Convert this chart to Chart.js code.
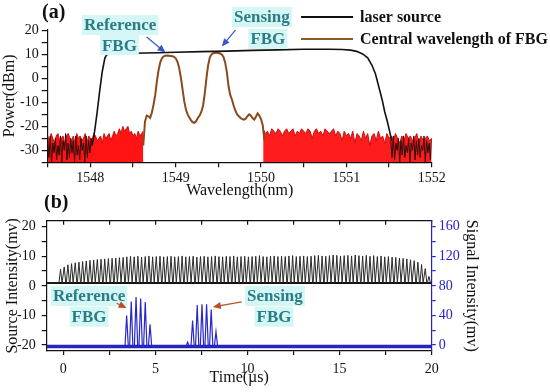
<!DOCTYPE html>
<html>
<head>
    <title>FBG spectrum and pulse signal</title>
    <script src="https://cdn.jsdelivr.net/npm/chart.js"></script>
    <style>
        body { margin: 0; background: #fff; }
        #wrap { position: relative; width: 550px; height: 392px; }
        canvas { position: absolute; left: 0; }
    </style>
</head>
<body>
<div id="wrap">
    <canvas id="chartA" width="550" height="200" style="top:0"></canvas>
    <canvas id="chartB" width="550" height="197" style="top:195px"></canvas>
</div>

<script>
// ---------- panel (a): spectrum ----------
const wlTicks = [1547.5, 1548, 1548.5, 1549, 1549.5, 1550, 1550.5, 1551, 1551.5, 1552];
const powTicks = [-35, -30, -25, -20, -15, -10, -5, 0, 5, 10, 15, 20];

// laser source, main band
const laserWl = [1548.02, 1548.05, 1548.08, 1548.11, 1548.14, 1548.17, 1548.19, 1548.21, 1548.25, 1548.35,
    1548.5, 1548.8, 1549.0, 1549.3, 1549.6, 1549.9, 1550.2, 1550.5, 1550.8, 1550.95,
    1551.05, 1551.12, 1551.19, 1551.25, 1551.3, 1551.34, 1551.38, 1551.42, 1551.45, 1551.48, 1551.51, 1551.53];
const laserPow = [-28, -22, -14, -5, 3, 8.5, 9.8, 10.1, 10.3, 10.4,
    10.5, 10.7, 10.9, 11.2, 11.4, 11.7, 11.9, 12.2, 12.2, 12.1,
    11.8, 11.3, 10.2, 8.6, 5.5, 2.0, -3.5, -9, -14, -18, -22.5, -26];

// laser source noise floor, both sides
const laserNoiseLWl = [1547.50, 1547.515, 1547.53, 1547.545, 1547.56, 1547.575, 1547.59, 1547.605, 1547.62, 1547.635,
    1547.65, 1547.665, 1547.68, 1547.695, 1547.71, 1547.725, 1547.74, 1547.755, 1547.77, 1547.785,
    1547.80, 1547.815, 1547.83, 1547.845, 1547.86, 1547.875, 1547.89, 1547.905, 1547.92, 1547.935,
    1547.95, 1547.965, 1547.98, 1547.995, 1548.01, 1548.02];
const laserNoiseLPow = [-26, -33, -24, -35, -27, -31, -25, -34, -28, -32,
    -24, -35, -26, -30, -23, -34, -27, -33, -25, -31,
    -26, -35, -24, -32, -28, -34, -25, -30, -27, -35,
    -24, -33, -26, -31, -25, -28];
const laserNoiseRWl = [1551.52, 1551.535, 1551.55, 1551.565, 1551.58, 1551.595, 1551.61, 1551.625, 1551.64, 1551.655,
    1551.67, 1551.685, 1551.70, 1551.715, 1551.73, 1551.745, 1551.76, 1551.775, 1551.79, 1551.805,
    1551.82, 1551.835, 1551.85, 1551.865, 1551.88, 1551.895, 1551.91, 1551.925, 1551.94, 1551.955,
    1551.97, 1551.985, 1552.0];
const laserNoiseRPow = [-26, -33, -24, -34, -27, -30, -25, -35, -26, -32,
    -24, -33, -28, -31, -25, -35, -27, -30, -24, -34,
    -26, -32, -25, -33, -28, -30, -24, -35, -26, -31,
    -27, -34, -25];

// FBG reflection (brown trace)
const fbgWl = [1548.62, 1548.64, 1548.66, 1548.68, 1548.70, 1548.72, 1548.74, 1548.76, 1548.78, 1548.80,
    1548.82, 1548.84, 1548.86, 1548.88, 1548.90, 1548.92, 1548.94, 1548.96, 1548.98, 1549.00,
    1549.02, 1549.04, 1549.06, 1549.08, 1549.10, 1549.12, 1549.14, 1549.16, 1549.18, 1549.20,
    1549.22, 1549.24, 1549.26, 1549.28, 1549.30, 1549.32, 1549.34, 1549.36, 1549.38, 1549.40,
    1549.42, 1549.44, 1549.46, 1549.48, 1549.50, 1549.52, 1549.54, 1549.56, 1549.58, 1549.60,
    1549.62, 1549.64, 1549.66, 1549.68, 1549.70, 1549.72, 1549.74, 1549.76, 1549.78, 1549.80,
    1549.82, 1549.84, 1549.86, 1549.88, 1549.90, 1549.92, 1549.94, 1549.96, 1549.98, 1550.00,
    1550.02, 1550.04];
const fbgPow = [-28, -18, -15.5, -15.8, -16.5, -14.4, -11, -7, -1, 3.6,
    6.8, 8.5, 9.2, 9.5, 9.6, 9.5, 9.4, 9.3, 9.0, 8.4,
    7.0, 4.5, 0.5, -4.5, -9.5, -13.0, -15.0, -16.3, -17.5, -18.3,
    -18.5, -17.8, -16.5, -15.5, -14.0, -11.5, -6.5, 0, 5.5, 8.8,
    10.0, 10.5, 10.7, 10.7, 10.6, 10.4, 10.0, 9.0, 6.5, 2.5,
    -3.5, -7.0, -8.9, -11.5, -13.5, -15.0, -15.8, -16.5, -17.0, -17.2,
    -16.8, -15.8, -15.0, -15.5, -16.5, -17.2, -16.0, -14.6, -15.5, -17.0,
    -19.5, -26];

// FBG measurement noise floor (red filled), upper envelope
const fbgNoiseLWl = [1547.50, 1547.52, 1547.54, 1547.56, 1547.58, 1547.60, 1547.62, 1547.64, 1547.66, 1547.68,
    1547.70, 1547.72, 1547.74, 1547.76, 1547.78, 1547.80, 1547.82, 1547.84, 1547.86, 1547.88,
    1547.90, 1547.92, 1547.94, 1547.96, 1547.98, 1548.00, 1548.02, 1548.04, 1548.06, 1548.08,
    1548.10, 1548.12, 1548.14, 1548.16, 1548.18, 1548.20, 1548.22, 1548.24, 1548.26, 1548.28,
    1548.30, 1548.32, 1548.34, 1548.36, 1548.38, 1548.40, 1548.42, 1548.44, 1548.46, 1548.48,
    1548.50, 1548.52, 1548.54, 1548.56, 1548.58, 1548.60, 1548.62];
const fbgNoiseLPow = [-24, -26, -23, -25, -27, -24, -23, -26, -25, -24,
    -28, -24, -23, -25, -26, -24, -27, -23, -25, -24,
    -26, -25, -23, -27, -24, -25, -26, -23, -24, -26,
    -25, -24, -27, -23, -25, -24, -23, -26, -24, -22,
    -24, -23, -21, -23, -20, -22, -21, -20, -23, -22,
    -24, -23, -25, -22, -24, -23, -22];
const fbgNoiseRWl = [1550.025, 1550.05, 1550.075, 1550.10, 1550.125, 1550.15, 1550.175, 1550.20, 1550.225, 1550.25,
    1550.275, 1550.30, 1550.325, 1550.35, 1550.375, 1550.40, 1550.425, 1550.45, 1550.475, 1550.50,
    1550.525, 1550.55, 1550.575, 1550.60, 1550.625, 1550.65, 1550.675, 1550.70, 1550.725, 1550.75,
    1550.775, 1550.80, 1550.825, 1550.85, 1550.875, 1550.90, 1550.925, 1550.95, 1550.975, 1551.00,
    1551.025, 1551.05, 1551.075, 1551.10, 1551.125, 1551.15, 1551.175, 1551.20, 1551.225, 1551.25,
    1551.275, 1551.30, 1551.325, 1551.35, 1551.375, 1551.40, 1551.425, 1551.45, 1551.475, 1551.50,
    1551.525, 1551.55, 1551.575, 1551.60, 1551.625, 1551.65, 1551.675, 1551.70, 1551.725, 1551.75,
    1551.775, 1551.80, 1551.825, 1551.85, 1551.875, 1551.90, 1551.925, 1551.95, 1551.975, 1552.00];
const fbgNoiseRPow = [-21, -23, -22, -24, -21, -22, -23, -21, -22, -24,
    -22, -21, -23, -22, -21, -24, -22, -23, -21, -22,
    -23, -21, -22, -25, -22, -21, -23, -22, -24, -21,
    -22, -23, -22, -21, -24, -22, -23, -26, -22, -24,
    -23, -25, -22, -27, -23, -24, -26, -22, -25, -23,
    -28, -24, -23, -26, -22, -25, -24, -27, -23, -25,
    -24, -26, -23, -25, -27, -24, -26, -23, -25, -24,
    -26, -25, -23, -27, -24, -26, -25, -24, -26, -25];

// ---------- panel (b): pulse train ----------
const timeTicks = [0, 2.5, 5, 7.5, 10, 12.5, 15, 17.5, 20];
const srcTicks = [-20, -15, -10, -5, 0, 5, 10, 15, 20];
const sigTicks = [0, 20, 40, 60, 80, 100, 120, 140, 160];

const srcBase = 1.0;
const srcPulseTimes = [
    -0.15, 0.05, 0.25, 0.45, 0.65, 0.85, 1.05, 1.25, 1.45, 1.65,
    1.85, 2.05, 2.25, 2.45, 2.65, 2.85, 3.05, 3.25, 3.45, 3.65,
    3.85, 4.05, 4.25, 4.45, 4.65, 4.85, 5.05, 5.25, 5.45, 5.65,
    5.85, 6.05, 6.25, 6.45, 6.65, 6.85, 7.05, 7.25, 7.45, 7.65,
    7.85, 8.05, 8.25, 8.45, 8.65, 8.85, 9.05, 9.25, 9.45, 9.65,
    9.85, 10.05, 10.25, 10.45, 10.65, 10.85, 11.05, 11.25, 11.45, 11.65,
    11.85, 12.05, 12.25, 12.45, 12.65, 12.85, 13.05, 13.25, 13.45, 13.65,
    13.85, 14.05, 14.25, 14.45, 14.65, 14.85, 15.05, 15.25, 15.45, 15.65,
    15.85, 16.05, 16.25, 16.45, 16.65, 16.85, 17.05, 17.25, 17.45, 17.65,
    17.85, 18.05, 18.25, 18.45, 18.65, 18.85, 19.05, 19.25, 19.45, 19.65,
    19.85];
const srcPulsePeaks = [
    5.6, 6.4, 7.1, 7.5, 7.8, 8.0, 8.2, 8.4, 8.6, 8.7,
    8.9, 9.0, 9.1, 9.2, 9.3, 9.4, 9.5, 9.6, 9.8, 10.0,
    9.8, 10.0, 9.7, 9.9, 10.1, 9.8, 9.9, 10.0, 9.8, 9.9,
    10.0, 9.8, 9.9, 10.1, 9.8, 9.9, 10.0, 9.7, 9.9, 10.0,
    9.8, 9.9, 10.1, 9.9, 9.8, 10.0, 9.9, 10.1, 9.8, 9.9,
    10.0, 9.8, 9.9, 10.0, 10.2, 9.9, 9.8, 10.0, 10.1, 9.9,
    10.0, 9.9, 10.1, 10.2, 9.9, 10.0, 10.1, 9.9, 10.0, 10.2,
    10.3, 10.1, 10.0, 10.2, 10.4, 10.3, 10.1, 10.2, 10.3, 10.1,
    10.4, 10.2, 10.1, 10.3, 10.0, 10.2, 9.9, 10.1, 9.8, 9.9,
    9.7, 9.6, 9.4, 9.3, 9.1, 8.8, 8.5, 8.0, 7.2, 5.8,
    3.2];

const sigBase = -2;
const refPulseTimes = [3.44, 3.69, 3.95, 4.20, 4.45, 4.71];
const refPulsePeaks = [40, 59, 65, 63, 58, 28];
const senPulseTimes = [6.75, 7.02, 7.27, 7.53, 7.78, 8.03, 8.29];
const senPulsePeaks = [4, 33, 54, 55, 55, 48, 18];

// ---------- helpers ----------
Chart.defaults.font.family = "'Liberation Serif', 'Times New Roman', serif";
Chart.defaults.color = '#111';

const toXY = (xs, ys) => xs.map((x, i) => ({ x: x, y: ys[i] }));

function pulseTrain(times, peaks, base, half, xMin, xMax) {
    const pts = [{ x: xMin, y: base }];
    times.forEach((t, i) => {
        pts.push({ x: t - half, y: base }, { x: t, y: peaks[i] }, { x: t + half, y: base });
    });
    pts.push({ x: xMax, y: base });
    return pts;
}

const fixTicks = list => axis => { axis.ticks = list.map(v => ({ value: v })); };

// text boxes, arrows, legend, panel letter
const decorPlugin = {
    id: 'decor',
    afterDraw(chart, args, opts) {
        const ctx = chart.ctx;
        const xs = chart.scales.x;
        const ys = chart.scales[opts.yScale || 'y'];
        ctx.save();
        (opts.texts || []).forEach(t => {
            ctx.font = 'bold 17px "Liberation Serif", serif';
            const px = xs.getPixelForValue(t.x), py = ys.getPixelForValue(t.y);
            const w = ctx.measureText(t.text).width;
            ctx.fillStyle = '#d4f6f4';
            ctx.fillRect(px - w / 2 - 2, py - 10, w + 4, 20);
            ctx.fillStyle = '#2c7c86';
            ctx.textAlign = 'center';
            ctx.textBaseline = 'middle';
            ctx.fillText(t.text, px, py + 1);
        });
        (opts.arrows || []).forEach(a => {
            const x1 = xs.getPixelForValue(a.from[0]), y1 = ys.getPixelForValue(a.from[1]);
            const x2 = xs.getPixelForValue(a.to[0]), y2 = ys.getPixelForValue(a.to[1]);
            const ang = Math.atan2(y2 - y1, x2 - x1);
            ctx.strokeStyle = a.color;
            ctx.fillStyle = a.color;
            ctx.lineWidth = 1.2;
            ctx.beginPath();
            ctx.moveTo(x1, y1);
            ctx.lineTo(x2 - 6 * Math.cos(ang), y2 - 6 * Math.sin(ang));
            ctx.stroke();
            ctx.beginPath();
            ctx.moveTo(x2, y2);
            ctx.lineTo(x2 - 8 * Math.cos(ang) + 3.5 * Math.sin(ang), y2 - 8 * Math.sin(ang) - 3.5 * Math.cos(ang));
            ctx.lineTo(x2 - 8 * Math.cos(ang) - 3.5 * Math.sin(ang), y2 - 8 * Math.sin(ang) + 3.5 * Math.cos(ang));
            ctx.closePath();
            ctx.fill();
        });
        (opts.legend || []).forEach((item, i) => {
            const y = opts.legendY + i * 22;
            ctx.strokeStyle = item.color;
            ctx.lineWidth = 2;
            ctx.beginPath();
            ctx.moveTo(opts.legendX, y);
            ctx.lineTo(opts.legendX + 52, y);
            ctx.stroke();
            ctx.fillStyle = '#111';
            ctx.font = 'bold 16px "Liberation Serif", serif';
            ctx.textAlign = 'left';
            ctx.textBaseline = 'middle';
            ctx.fillText(item.label, opts.legendX + 59, y + 1);
        });
        if (opts.panel) {
            ctx.fillStyle = '#111';
            ctx.font = 'bold 20px "Liberation Serif", serif';
            ctx.textAlign = 'left';
            ctx.textBaseline = 'middle';
            ctx.fillText(opts.panel, opts.panelX, opts.panelY);
        }
        ctx.restore();
    }
};

const axisCommon = {
    grid: { drawOnChartArea: false, color: '#111', tickLength: 5, lineWidth: 1.2 },
    border: { color: '#111', width: 1.2 },
    ticks: { autoSkip: false, maxRotation: 0, font: { size: 14 }, color: '#111' }
};

// ---------- chart (a) ----------
new Chart(document.getElementById('chartA'), {
    type: 'line',
    data: {
        datasets: [
            { label: 'laser source', data: toXY(laserWl, laserPow), borderColor: '#111', borderWidth: 1.6, order: 0 },
            { label: 'Central wavelength of FBG', data: toXY(fbgWl, fbgPow), borderColor: '#8a4a1e', borderWidth: 2, order: 1 },
            { label: 'laser noise L', data: toXY(laserNoiseLWl, laserNoiseLPow), borderColor: '#2e0c0c', borderWidth: 1, order: 2 },
            { label: 'laser noise R', data: toXY(laserNoiseRWl, laserNoiseRPow), borderColor: '#2e0c0c', borderWidth: 1, order: 2 },
            { label: 'fbg noise L', data: toXY(fbgNoiseLWl, fbgNoiseLPow), borderColor: '#c81010', backgroundColor: '#ff1414', fill: 'start', borderWidth: 1, order: 4 },
            { label: 'fbg noise R', data: toXY(fbgNoiseRWl, fbgNoiseRPow), borderColor: '#c81010', backgroundColor: '#ff1c1c', fill: 'start', borderWidth: 1, order: 4 }
        ]
    },
    options: {
        responsive: false,
        animation: false,
        elements: { point: { radius: 0 }, line: { tension: 0 } },
        layout: { padding: { top: 29.3, right: 118.3, left: 0, bottom: 0 } },
        plugins: {
            legend: { display: false },
            tooltip: { enabled: false },
            decor: {
                texts: [
                    { text: 'Reference', x: 1548.35, y: 22.3 },
                    { text: 'FBG', x: 1548.34, y: 13.9 },
                    { text: 'Sensing', x: 1550.01, y: 25.6 },
                    { text: 'FBG', x: 1550.08, y: 16.5 }
                ],
                arrows: [
                    { from: [1548.66, 17.3], to: [1548.88, 10.8], color: '#3558c8' },
                    { from: [1549.70, 20.2], to: [1549.54, 13.3], color: '#3558c8' }
                ],
                legend: [
                    { label: 'laser source', color: '#111' },
                    { label: 'Central wavelength of FBG', color: '#8a5a24' }
                ],
                legendX: 301, legendY: 17,
                panel: '(a)', panelX: 42, panelY: 13
            }
        },
        scales: {
            x: {
                type: 'linear', min: 1547.5, max: 1552,
                afterBuildTicks: fixTicks(wlTicks),
                afterFit: s => { s.height = 37.7; },
                grid: axisCommon.grid, border: axisCommon.border,
                ticks: Object.assign({}, axisCommon.ticks, { padding: 3, callback: v => Number.isInteger(v) ? String(v) : '' }),
                title: { display: true, text: 'Wavelength(nm)', font: { size: 16 }, padding: { top: 0, bottom: 0 } }
            },
            y: {
                min: -35, max: 20.5,
                afterBuildTicks: fixTicks(powTicks),
                afterFit: s => { s.width = 47.7; },
                grid: Object.assign({}, axisCommon.grid, { tickLength: 6 }), border: axisCommon.border,
                ticks: Object.assign({}, axisCommon.ticks, { padding: 3, callback: v => v % 10 === 0 ? String(v) : '' }),
                title: { display: true, text: 'Power(dBm)', font: { size: 16 }, padding: { top: 0, bottom: 0 } }
            }
        }
    },
    plugins: [decorPlugin]
});

// ---------- chart (b) ----------
new Chart(document.getElementById('chartB'), {
    type: 'line',
    data: {
        datasets: [
            { label: 'source', data: pulseTrain(srcPulseTimes, srcPulsePeaks, srcBase, 0.085, -0.9, 20), borderColor: '#2a2a2a', borderWidth: 1, yAxisID: 'y', order: 1 },
            { label: 'source base', data: toXY([-0.9, 20], [srcBase, srcBase]), borderColor: '#111', borderWidth: 2, yAxisID: 'y', order: 2 },
            { label: 'signal', data: pulseTrain(refPulseTimes.concat(senPulseTimes), refPulsePeaks.concat(senPulsePeaks), sigBase, 0.09, -0.9, 20), borderColor: '#2828c8', borderWidth: 1.2, yAxisID: 'y2', order: 0 },
            { label: 'signal base', data: toXY([-0.9, 20], [sigBase, sigBase]), borderColor: '#2323c0', borderWidth: 3.5, yAxisID: 'y2', order: 0 }
        ]
    },
    options: {
        responsive: false,
        animation: false,
        elements: { point: { radius: 0 }, line: { tension: 0 } },
        layout: { padding: { top: 25.7, right: 0, left: 0, bottom: 0 } },
        plugins: {
            legend: { display: false },
            tooltip: { enabled: false },
            decor: {
                texts: [
                    { text: 'Reference', x: 1.40, y: -3.4 },
                    { text: 'FBG', x: 1.40, y: -10.4 },
                    { text: 'Sensing', x: 11.49, y: -3.4 },
                    { text: 'FBG', x: 11.44, y: -10.4 }
                ],
                arrows: [
                    { from: [2.90, -5.9], to: [3.44, -7.5], color: '#b4502a' },
                    { from: [9.69, -5.4], to: [8.12, -7.1], color: '#b4502a' }
                ],
                panel: '(b)', panelX: 44, panelY: 8
            }
        },
        scales: {
            x: {
                type: 'linear', position: 'bottom', min: -0.9, max: 20,
                afterBuildTicks: fixTicks(timeTicks),
                afterFit: s => { s.height = 41; },
                grid: Object.assign({}, axisCommon.grid, { tickLength: 4 }), border: axisCommon.border,
                ticks: Object.assign({}, axisCommon.ticks, { padding: 6, callback: v => v % 5 === 0 ? String(v) : '' }),
                title: { display: true, text: 'Time(µs)', font: { size: 16 }, padding: { top: 0, bottom: 4.4 } }
            },
            xTop: {
                type: 'linear', position: 'top', min: -0.9, max: 20,
                afterBuildTicks: fixTicks(timeTicks),
                afterFit: s => { s.height = 0; },
                grid: Object.assign({}, axisCommon.grid, { tickLength: -4 }), border: axisCommon.border,
                ticks: { display: false }
            },
            y: {
                position: 'left', min: -22, max: 22,
                afterBuildTicks: fixTicks(srcTicks),
                afterFit: s => { s.width = 46.7; },
                grid: axisCommon.grid, border: axisCommon.border,
                ticks: Object.assign({}, axisCommon.ticks, { padding: 6, callback: v => v % 10 === 0 ? String(v) : '' }),
                title: { display: true, text: 'Source Intensity(mv)', font: { size: 16 }, padding: { top: 3.4, bottom: 0 } }
            },
            y2: {
                position: 'right', min: -8, max: 168,
                afterBuildTicks: fixTicks(sigTicks),
                afterFit: s => { s.width = 118.3; },
                grid: { drawOnChartArea: false, color: '#2323c8', tickLength: 4, lineWidth: 1.2 },
                border: { color: '#2323c8', width: 1.2 },
                ticks: { autoSkip: false, maxRotation: 0, font: { size: 14 }, color: '#2323c8', padding: 3, callback: v => v % 40 === 0 ? String(v) : '' },
                title: { display: true, text: 'Signal Intensity(mv)', font: { size: 16 }, color: '#111', padding: { top: 68.7, bottom: 0 } }
            }
        }
    },
    plugins: [decorPlugin]
});
</script>
</body>
</html>
